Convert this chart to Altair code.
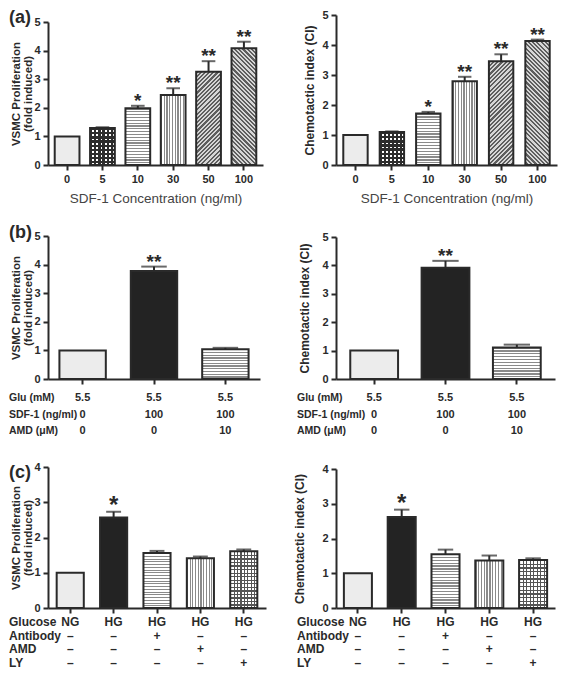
import math
import altair as alt
import pandas as pd

# ---------------- data ----------------
a_conc = ["0", "5", "10", "30", "50", "100"]
a_prolif = [1.0, 1.29, 1.98, 2.45, 3.26, 4.08]
a_prolif_err = [0.0, 0.03, 0.09, 0.23, 0.37, 0.23]
a_ci = [1.0, 1.10, 1.72, 2.79, 3.46, 4.13]
a_ci_err = [0.0, 0.02, 0.05, 0.15, 0.23, 0.05]
a_sig = ["", "", "*", "**", "**", "**"]

b_groups = ["Control", "SDF-1", "SDF-1 + AMD"]
b_prolif = [1.0, 3.78, 1.04]
b_prolif_err = [0.0, 0.15, 0.05]
b_ci = [1.0, 3.92, 1.11]
b_ci_err = [0.0, 0.24, 0.10]
b_sig = ["", "**", ""]
b_rows = ["Glu (mM)", "SDF-1 (ng/ml)", "AMD (\u03bcM)"]
b_table = [["5.5", "5.5", "5.5"], ["0", "100", "100"], ["0", "0", "10"]]

c_groups = ["NG", "HG", "HG + Antibody", "HG + AMD", "HG + LY"]
c_prolif = [1.0, 2.57, 1.56, 1.41, 1.61]
c_prolif_err = [0.0, 0.16, 0.06, 0.05, 0.05]
c_ci = [1.0, 2.62, 1.55, 1.37, 1.38]
c_ci_err = [0.0, 0.21, 0.13, 0.14, 0.05]
c_sig = ["", "*", "", "", ""]
c_rows = ["Glucose", "Antibody", "AMD", "LY"]
c_table = [["NG", "HG", "HG", "HG", "HG"],
           ["\u2013", "\u2013", "+", "\u2013", "\u2013"],
           ["\u2013", "\u2013", "\u2013", "+", "\u2013"],
           ["\u2013", "\u2013", "\u2013", "\u2013", "+"]]

a_patterns = ["light", "checker", "hline", "vline", "diag1", "diag2"]
b_patterns = ["light", "dark", "hline"]
c_patterns = ["light", "dark", "hline", "vline", "grid"]

# ---------------- styling helpers ----------------
FONT = "Liberation Sans"
INK = "#2a2a2a"
CLEAR = "rgba(255,255,255,0)"
LEFT = -39


def stripes(kind, period, length, line, bg, duty, w=1.0, h=1.0):
    n = max(1, int(round(length / period)))
    stops = []
    for i in range(n):
        a, b, c = i / n, (i + duty) / n, (i + 1) / n
        stops += [alt.GradientStop(offset=a, color=line),
                  alt.GradientStop(offset=b, color=line),
                  alt.GradientStop(offset=b, color=bg),
                  alt.GradientStop(offset=c, color=bg)]
    if kind == "h":
        c = dict(x1=0, x2=0, y1=0, y2=1)
    elif kind == "v":
        c = dict(x1=0, x2=1, y1=0, y2=0)
    else:
        k = (w + h) / (w * w + h * h)
        if kind == "d1":
            c = dict(x1=0, y1=0, x2=w * k, y2=h * k)
        else:
            c = dict(x1=1, y1=0, x2=1 - w * k, y2=h * k)
    return alt.Gradient(gradient="linear", stops=stops, **c)


def fills_for(pat, w, h):
    if pat == "light":
        return ["#ececec"]
    if pat == "dark":
        return ["#232323"]
    if pat == "hline":
        return [stripes("h", 2.8, h, "#8a8a8a", "#ffffff", 0.45)]
    if pat == "vline":
        return [stripes("v", 2.8, w, "#8a8a8a", "#ffffff", 0.45)]
    if pat == "checker":
        return [stripes("v", 4.2, w, "#2c2c2c", "#ffffff", 0.55),
                stripes("h", 4.2, h, "#2c2c2c", CLEAR, 0.55)]
    if pat == "grid":
        return [stripes("v", 3.6, w, "#555555", "#ffffff", 0.35),
                stripes("h", 3.6, h, "#555555", CLEAR, 0.35)]
    if pat in ("diag1", "diag2"):
        d = (w + h) / math.sqrt(2)
        return [stripes("d1" if pat == "diag1" else "d2", 3.0, d,
                        "#5e5e5e", "#d6d6d6", 0.5, w, h)]
    return ["#cccccc"]


def panel(cats, vals, errs, sigs, patterns, *, width, height, xr, yr, pi, po,
          ymax, ytitle, ytpad, xlabels, xtitle="", star_size=19,
          rows=None, table=None, row_fs=10.5, val_fs=11, row_off=None,
          label=None, label_y=0, ytfs=12, ytlh=12):
    df = pd.DataFrame({"cat": cats, "val": vals, "err": errs, "sig": sigs})
    df["upper"] = df["val"] + df["err"]

    xaxis = alt.Axis(labels=xlabels, labelAngle=0, labelFontWeight="bold",
                     labelFontSize=11, labelColor=INK, labelPadding=3,
                     tickSize=5, tickWidth=2, tickColor=INK,
                     domainWidth=2, domainColor=INK,
                     titleFontSize=13.5, titleFontWeight="normal",
                     titleColor="#444444", titlePadding=7)
    X = alt.X("cat:N", sort=cats, title=xtitle,
              scale=alt.Scale(range=xr, paddingInner=pi, paddingOuter=po),
              axis=xaxis)
    yaxis = alt.Axis(values=list(range(ymax + 1)), format="d", grid=False,
                     labelFontWeight="bold", labelFontSize=11, labelColor=INK,
                     labelPadding=3, tickSize=5, tickWidth=2, tickColor=INK,
                     domainWidth=2, domainColor=INK,
                     titleFontSize=ytfs, titleFontWeight="bold", titleColor=INK,
                     titleLineHeight=ytlh, titlePadding=ytpad)

    def Y(field):
        return alt.Y(f"{field}:Q", title=ytitle,
                     scale=alt.Scale(domain=[0, ymax], range=yr, nice=False),
                     axis=yaxis)

    n = len(cats)
    step = (xr[1] - xr[0]) / (n - pi + 2 * po)
    bw = step * (1 - pi)
    ppu = (yr[0] - yr[1]) / ymax

    base = alt.Chart(df)
    layers = []
    for cat, v, pat in zip(cats, vals, patterns):
        for f in fills_for(pat, bw, v * ppu):
            layers.append(base.transform_filter(alt.datum.cat == cat)
                          .mark_bar(fill=f, strokeWidth=0)
                          .encode(x=X, y=Y("val")))
    layers.append(base.mark_bar(fillOpacity=0, stroke=INK, strokeWidth=2)
                  .encode(x=X, y=Y("val")))
    eb = base.transform_filter(alt.datum.err > 0)
    layers.append(eb.mark_rule(color=INK, strokeWidth=2)
                  .encode(x=X, y=Y("val"), y2="upper:Q"))
    layers.append(eb.mark_tick(color=INK, thickness=2, size=bw * 0.55)
                  .encode(x=X, y=Y("upper")))
    layers.append(base.transform_filter(alt.datum.sig != "")
                  .mark_text(fontSize=star_size, fontWeight="bold", color=INK,
                             baseline="alphabetic", dy=1)
                  .encode(x=X, y=Y("upper"), text="sig:N"))
    main = alt.layer(*layers)

    extra = []
    if label:
        ldf = pd.DataFrame({"t": [label]})
        extra.append(alt.Chart(ldf).mark_text(
            align="left", baseline="middle", fontSize=18, fontWeight="bold",
            color=INK).encode(x=alt.value(LEFT), y=alt.value(label_y), text="t:N"))
    if rows:
        k = len(rows)
        RY = alt.Y("ri:Q", scale=alt.Scale(domain=[0, k - 1],
                                            range=[height + row_off[0], height + row_off[1]]),
                   axis=None)
        tdf = pd.DataFrame([{"cat": cats[j], "ri": i, "txt": table[i][j]}
                            for i in range(k) for j in range(n)])
        rdf = pd.DataFrame({"ri": list(range(k)), "row": rows})
        extra.append(alt.Chart(tdf).mark_text(
            fontSize=val_fs, fontWeight="bold", color=INK, baseline="middle")
            .encode(x=X, y=RY, text="txt:N"))
        extra.append(alt.Chart(rdf).mark_text(
            align="left", baseline="middle", fontSize=row_fs, fontWeight="bold",
            color=INK, x=LEFT).encode(y=RY, text="row:N"))
    if extra:
        out = alt.layer(main, *extra).resolve_scale(y="independent")
    else:
        out = main
    return out.properties(width=width, height=height)


VSMC = ["VSMC Proliferation", "(fold induced)"]
CI = "Chemotactic index (CI)"
V = dict(ytfs=11.5, ytlh=12.5, ytpad=0)

a_l = panel(a_conc, a_prolif, a_prolif_err, a_sig, a_patterns,
            width=218, height=150, xr=[0, 215], yr=[150, 7], pi=0.3, po=0.19,
            ymax=5, ytitle=VSMC, xlabels=True,
            xtitle="SDF-1 Concentration (ng/ml)", label="(a)", label_y=3, **V)
a_r = panel(a_conc, a_ci, a_ci_err, a_sig, a_patterns,
            width=221, height=150, xr=[0, 221], yr=[150, 0], pi=0.33, po=0.2,
            ymax=5, ytitle=CI, ytpad=5, xlabels=True,
            xtitle="SDF-1 Concentration (ng/ml)")
b_l = panel(b_groups, b_prolif, b_prolif_err, b_sig, b_patterns,
            width=218, height=156, xr=[0, 212], yr=[156, 13], pi=0.35, po=0.16,
            ymax=5, ytitle=VSMC, xlabels=False,
            rows=b_rows, table=b_table, row_off=[19, 52], label="(b)", label_y=10, **V)
b_r = panel(b_groups, b_ci, b_ci_err, b_sig, b_patterns,
            width=221, height=156, xr=[0, 219], yr=[156, 14], pi=0.33, po=0.2,
            ymax=5, ytitle=CI, ytpad=10, xlabels=False,
            rows=b_rows, table=b_table, row_off=[19, 52])
c_l = panel(c_groups, c_prolif, c_prolif_err, c_sig, c_patterns,
            width=218, height=171, xr=[0, 218], yr=[171, 30], pi=0.375, po=0.2,
            ymax=4, ytitle=VSMC, xlabels=False, star_size=24,
            rows=c_rows, table=c_table, row_fs=12, val_fs=12, row_off=[14, 55],
            label="(c)", label_y=36, **V)
c_r = panel(c_groups, c_ci, c_ci_err, c_sig, c_patterns,
            width=221, height=171, xr=[0, 219], yr=[171, 32], pi=0.36, po=0.18,
            ymax=4, ytitle=CI, ytpad=15, xlabels=False, star_size=24,
            rows=c_rows, table=c_table, row_fs=12, val_fs=12, row_off=[14, 55])

chart = (alt.concat(a_l, a_r, b_l, b_r, c_l, c_r, columns=2,
                    spacing=alt.RowColnumber(row=58, column=70),
                    bounds="flush", align="each")
         .properties(padding=0, background="white")
         .configure(font=FONT)
         .configure_view(stroke="transparent"))

chart.save("out.html", embed_options={"renderer": "svg", "actions": False})
